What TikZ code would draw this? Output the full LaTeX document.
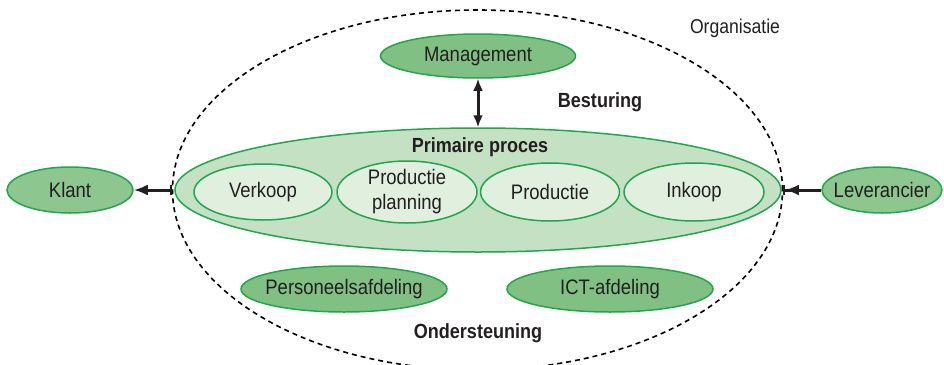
\documentclass[tikz,border=0pt]{standalone}
\usepackage{fontspec}
\setmainfont{Liberation Sans}[FakeStretch=0.88]
\usetikzlibrary{shapes.geometric,arrows.meta}
\definecolor{rand}{RGB}{30,168,75}
\definecolor{donker}{RGB}{128,192,131}
\definecolor{licht}{RGB}{197,225,196}
\definecolor{bleek}{RGB}{224,239,222}
\definecolor{tekst}{RGB}{35,31,32}
\tikzset{
    blob/.style={ellipse,draw=rand,line width=1.5pt,fill=donker,inner xsep=-15pt,inner ysep=-6pt,
        text=tekst,font=\fontsize{21}{25}\selectfont,align=center},
    deel/.style={blob,fill=bleek},
    kop/.style={text=tekst,font=\fontsize{20.5}{24}\selectfont\bfseries},
    pijl/.style={line width=3pt,draw=tekst},
}
\begin{document}
\begin{tikzpicture}[x=1pt,y=-1pt]
    \useasboundingbox (0,0) rectangle (944,364);
    % organisatie
    \node[ellipse,draw=black,line width=1.6pt,dash pattern=on 5pt off 4pt,
        minimum width=610pt,minimum height=360pt,inner sep=0pt] (org) at (477.5,190) {};
    \node[text=tekst,font=\fontsize{20}{24}\selectfont] (orglabel) at (735,28) {Organisatie};
    % primaire proces
    \node[blob,fill=licht,minimum width=606pt,minimum height=124pt] (prim) at (478,190) {};
    \node[kop] (primkop) at (480,147) {Primaire proces};
    \node[deel,minimum width=138pt,minimum height=56pt] (verkoop) at (263,192) {Verkoop};
    \node[deel,minimum width=140pt,minimum height=62pt] (planning) at (407,192) {Productie\\planning};
    \node[deel,minimum width=139pt,minimum height=58pt] (productie) at (550,192) {Productie};
    \node[deel,minimum width=140pt,minimum height=58pt] (inkoop) at (694,192) {Inkoop};
    % besturing
    \node[blob,minimum width=195pt,minimum height=44pt] (mgmt) at (478,56) {Management};
    \node[kop] (besturing) at (600,102) {Besturing};
    \draw[pijl,{Latex[length=12pt,width=10pt]}-{Latex[length=12pt,width=10pt]}] (mgmt.south) -- (prim.north);
    % ondersteuning
    \node[blob,minimum width=206pt,minimum height=46pt] (pers) at (344,289) {Personeelsafdeling};
    \node[blob,minimum width=206pt,minimum height=46pt] (ict) at (610,289) {ICT-afdeling};
    \node[kop] (onderst) at (478,333) {Ondersteuning};
    % omgeving
    \node[blob,fill=donker!90!white,minimum width=126pt,minimum height=46pt] (klant) at (70,190) {Klant};
    \node[blob,fill=donker!90!white,minimum width=120pt,minimum height=46pt] (lev) at (882,190) {Leverancier};
    \draw[pijl,{Bar[width=10pt,line width=1.6pt]}-{Latex[length=14pt,width=11pt]}] (org.west) -- (klant.east);
    \draw[pijl,-{Latex[length=14pt,width=11pt] Bar[width=10pt,line width=1.6pt]}] (lev.west) -- (org.east);
\end{tikzpicture}
\end{document}
